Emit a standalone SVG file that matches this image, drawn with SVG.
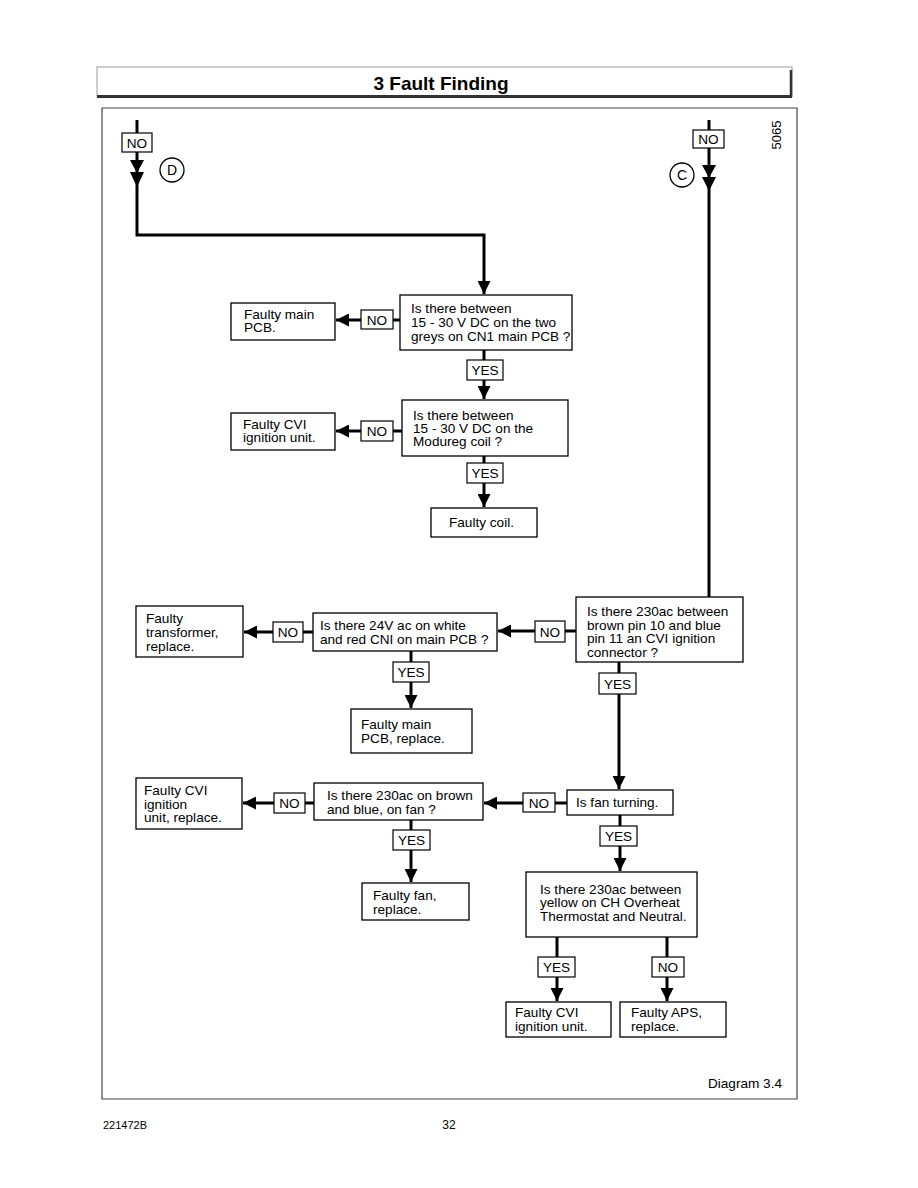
<svg xmlns="http://www.w3.org/2000/svg" width="918" height="1188" viewBox="0 0 918 1188">
<defs>
<style>
text{font-family:"Liberation Sans",Arial,sans-serif;font-size:13.6px;fill:#000}
.box{fill:#fff;stroke:#000;stroke-width:1.3}
.lbl{fill:#fff;stroke:#000;stroke-width:1.2}
.c{text-anchor:middle}
.ln{stroke:#000;stroke-width:3;fill:none}
</style>
<marker id="ah" markerUnits="userSpaceOnUse" markerWidth="13" markerHeight="13" refX="13" refY="6.5" orient="auto" viewBox="0 0 13 13"><path d="M0,0 L13,6.5 L0,13 z" fill="#000"/></marker>
</defs>
<rect width="918" height="1188" fill="#fff"/>
<g id="header">
<rect x="97" y="67" width="695" height="29" fill="#fff" stroke="#999" stroke-width="1"/>
<line x1="97" y1="96.5" x2="792" y2="96.5" stroke="#333" stroke-width="3"/>
<line x1="791" y1="70" x2="791" y2="97" stroke="#333" stroke-width="2.5"/>
<text x="441" y="90" class="c" style="font-size:19px;font-weight:bold">3 Fault Finding</text>
</g>
<g id="frame">
<path d="M102,108 H797 V1099 H102 Z" fill="none" stroke="#444" stroke-width="1.2"/>
<text x="781" y="135" class="c" transform="rotate(-90 781 135)" style="font-size:13px">5065</text>
<text x="782" y="1088" style="text-anchor:end">Diagram 3.4</text>
<text x="103" y="1129" style="font-size:11px">221472B</text>
<text x="449" y="1129" class="c" style="font-size:12px">32</text>
</g>
<g id="connectors">
<path class="ln" d="M137,120 V235 H484 V294" marker-end="url(#ah)"/>
<path d="M130,160 L144,160 L137,173 Z M130,172 L144,172 L137,187 Z" fill="#000"/>
<path class="ln" d="M709,120 V597"/>
<path d="M702,165 L716,165 L709,178 Z M702,177 L716,177 L709,191 Z" fill="#000"/>
<line class="ln" x1="400" y1="320" x2="393" y2="320"/>
<line class="ln" x1="361" y1="320" x2="336" y2="320" marker-end="url(#ah)"/>
<line class="ln" x1="484" y1="350" x2="484" y2="399" marker-end="url(#ah)"/>
<line class="ln" x1="402" y1="431" x2="393" y2="431"/>
<line class="ln" x1="361" y1="431" x2="336" y2="431" marker-end="url(#ah)"/>
<line class="ln" x1="484" y1="456" x2="484" y2="507" marker-end="url(#ah)"/>
<line class="ln" x1="576" y1="631" x2="565" y2="631"/>
<line class="ln" x1="535" y1="631" x2="498" y2="631" marker-end="url(#ah)"/>
<line class="ln" x1="313" y1="632" x2="303" y2="632"/>
<line class="ln" x1="273" y1="632" x2="244" y2="632" marker-end="url(#ah)"/>
<line class="ln" x1="411" y1="651" x2="411" y2="708" marker-end="url(#ah)"/>
<line class="ln" x1="619" y1="662" x2="619" y2="789" marker-end="url(#ah)"/>
<line class="ln" x1="567" y1="803" x2="555" y2="803"/>
<line class="ln" x1="523" y1="803" x2="484" y2="803" marker-end="url(#ah)"/>
<line class="ln" x1="314" y1="803" x2="305" y2="803"/>
<line class="ln" x1="274" y1="803" x2="243" y2="803" marker-end="url(#ah)"/>
<line class="ln" x1="411" y1="820" x2="411" y2="882" marker-end="url(#ah)"/>
<line class="ln" x1="620" y1="815" x2="620" y2="871" marker-end="url(#ah)"/>
<line class="ln" x1="557" y1="937" x2="557" y2="1001" marker-end="url(#ah)"/>
<line class="ln" x1="667" y1="937" x2="667" y2="1001" marker-end="url(#ah)"/>
</g>
<g id="n_no_d"><rect class="lbl" x="122" y="133" width="30" height="19"/><text x="137" y="148" class="c">NO</text></g>
<g id="n_d"><circle cx="172" cy="170" r="12" fill="#fff" stroke="#000" stroke-width="1.3"/><text x="172" y="175" class="c" style="font-size:14px">D</text></g>
<g id="n_no_c"><rect class="lbl" x="693" y="130" width="31" height="18"/><text x="708.5" y="144" class="c">NO</text></g>
<g id="n_c"><circle cx="682" cy="175" r="12" fill="#fff" stroke="#000" stroke-width="1.3"/><text x="682" y="180" class="c" style="font-size:14px">C</text></g>
<g id="n_q1"><rect class="box" x="400" y="295" width="172" height="55"/><text x="411" y="313">Is there between</text><text x="411" y="327">15 - 30 V DC on the two</text><text x="411" y="341">greys on CN1 main PCB ?</text></g>
<g id="n_no1"><rect class="lbl" x="361" y="310" width="32" height="19"/><text x="377" y="325" class="c">NO</text></g>
<g id="n_f1"><rect class="box" x="231" y="303" width="104" height="37"/><text x="244" y="319">Faulty main</text><text x="244" y="332">PCB.</text></g>
<g id="n_yes1"><rect class="lbl" x="467" y="360" width="36" height="20"/><text x="485" y="375" class="c">YES</text></g>
<g id="n_q2"><rect class="box" x="402" y="400" width="166" height="56"/><text x="413" y="420">Is there between</text><text x="413" y="433">15 - 30 V DC on the</text><text x="413" y="446">Modureg coil ?</text></g>
<g id="n_no2"><rect class="lbl" x="361" y="421" width="32" height="20"/><text x="377" y="436" class="c">NO</text></g>
<g id="n_f2"><rect class="box" x="231" y="413" width="104" height="37"/><text x="243" y="429">Faulty CVI</text><text x="243" y="442">ignition unit.</text></g>
<g id="n_yes2"><rect class="lbl" x="467" y="463" width="36" height="20"/><text x="485" y="478" class="c">YES</text></g>
<g id="n_f3"><rect class="box" x="431" y="508" width="106" height="29"/><text x="449" y="527">Faulty coil.</text></g>
<g id="n_q3"><rect class="box" x="576" y="597" width="167" height="65"/><text x="587" y="616">Is there 230ac between</text><text x="587" y="630">brown pin 10 and blue</text><text x="587" y="643">pin 11 an CVI ignition</text><text x="587" y="657">connector ?</text></g>
<g id="n_no3"><rect class="lbl" x="535" y="621" width="30" height="21"/><text x="550" y="637" class="c">NO</text></g>
<g id="n_q4"><rect class="box" x="313" y="613" width="184" height="38"/><text x="320" y="630">Is there 24V ac on white</text><text x="320" y="644">and red CNI on main PCB ?</text></g>
<g id="n_no4"><rect class="lbl" x="273" y="622" width="30" height="20"/><text x="288" y="637" class="c">NO</text></g>
<g id="n_f4"><rect class="box" x="136" y="606" width="107" height="51"/><text x="146" y="623">Faulty</text><text x="146" y="637">transformer,</text><text x="146" y="651">replace.</text></g>
<g id="n_yes4"><rect class="lbl" x="393" y="662" width="36" height="20"/><text x="411" y="677" class="c">YES</text></g>
<g id="n_f5"><rect class="box" x="351" y="709" width="121" height="44"/><text x="361" y="729">Faulty main</text><text x="361" y="743">PCB, replace.</text></g>
<g id="n_yes3"><rect class="lbl" x="599" y="673" width="37" height="21"/><text x="617.5" y="689" class="c">YES</text></g>
<g id="n_q5"><rect class="box" x="567" y="790" width="106" height="25"/><text x="576" y="807">Is fan turning.</text></g>
<g id="n_no5"><rect class="lbl" x="523" y="793" width="32" height="19"/><text x="539" y="808" class="c">NO</text></g>
<g id="n_q6"><rect class="box" x="314" y="783" width="169" height="37"/><text x="327" y="800">Is there 230ac on brown</text><text x="327" y="814">and blue, on fan ?</text></g>
<g id="n_no6"><rect class="lbl" x="274" y="793" width="31" height="20"/><text x="289.5" y="808" class="c">NO</text></g>
<g id="n_f6"><rect class="box" x="136" y="778" width="106" height="51"/><text x="144" y="795">Faulty CVI</text><text x="144" y="809">ignition</text><text x="144" y="822">unit, replace.</text></g>
<g id="n_yes6"><rect class="lbl" x="393" y="830" width="37" height="20"/><text x="411.5" y="845" class="c">YES</text></g>
<g id="n_f7"><rect class="box" x="362" y="883" width="107" height="37"/><text x="373" y="900">Faulty fan,</text><text x="373" y="914">replace.</text></g>
<g id="n_yes5"><rect class="lbl" x="600" y="826" width="37" height="20"/><text x="618.5" y="841" class="c">YES</text></g>
<g id="n_q7"><rect class="box" x="526" y="872" width="171" height="65"/><text x="540" y="894">Is there 230ac between</text><text x="540" y="907">yellow on CH Overheat</text><text x="540" y="921">Thermostat and Neutral.</text></g>
<g id="n_yes7"><rect class="lbl" x="538" y="957" width="37" height="20"/><text x="556.5" y="972" class="c">YES</text></g>
<g id="n_no7"><rect class="lbl" x="652" y="957" width="32" height="20"/><text x="668" y="972" class="c">NO</text></g>
<g id="n_f8"><rect class="box" x="506" y="1002" width="105" height="35"/><text x="515" y="1017">Faulty CVI</text><text x="515" y="1031">ignition unit.</text></g>
<g id="n_f9"><rect class="box" x="620" y="1002" width="106" height="35"/><text x="631" y="1017">Faulty APS,</text><text x="631" y="1031">replace.</text></g>
</svg>
